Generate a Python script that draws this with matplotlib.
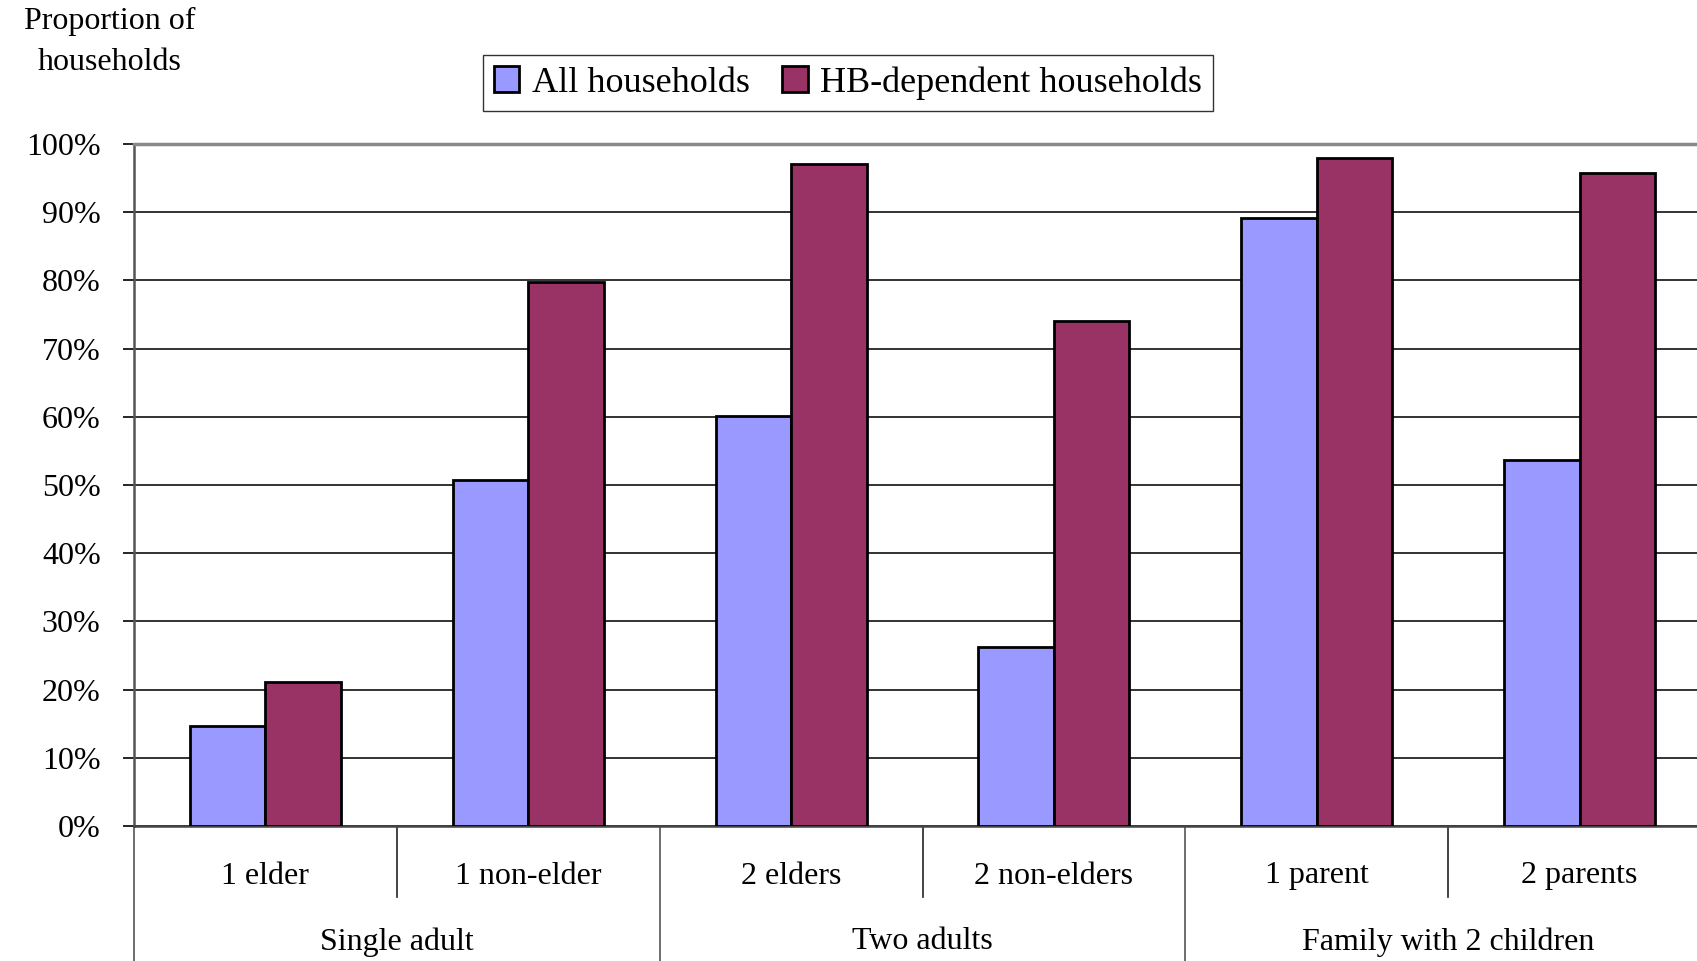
import matplotlib
matplotlib.use("Agg")
import matplotlib.pyplot as plt
import matplotlib.transforms as mtransforms
from matplotlib.patches import Patch
import numpy as np

plt.rcParams["font.family"] = ["Liberation Serif", "DejaVu Serif"]

# household types, grouped in pairs under three headings
subcategories = ["1 elder", "1 non-elder", "2 elders", "2 non-elders", "1 parent", "2 parents"]
groups = ["Single adult", "Two adults", "Family with 2 children"]
all_households = [0.146, 0.507, 0.601, 0.263, 0.892, 0.536]
hb_dependent = [0.211, 0.797, 0.971, 0.740, 0.979, 0.957]
series_names = ["All households", "HB-dependent households"]
yticks = np.arange(0, 1.01, 0.1)

BLUE = "#9999FF"
PLUM = "#993366"
FS = 23

W, H = 1697, 961
fig = plt.figure(figsize=(W / 100, H / 100), dpi=100)
left, right, top, bottom = 134, 1711, 144, 826
ax = fig.add_axes([left / W, 1 - bottom / H, (right - left) / W, (bottom - top) / H])

x = np.arange(len(subcategories))
bw = 0.287
ax.bar(x - bw / 2, all_households, bw, color=BLUE, edgecolor="black", linewidth=2, zorder=3)
ax.bar(x + bw / 2, hb_dependent, bw, color=PLUM, edgecolor="black", linewidth=2, zorder=3)

ax.set_xlim(-0.5, len(subcategories) - 0.5)
ax.set_ylim(0, 1)
ax.set_yticks(yticks)
ax.set_yticklabels([f"{int(round(t * 100))}%" for t in yticks], fontsize=FS)
ax.tick_params(axis="y", direction="out", length=8, width=1.2, pad=16, colors="black")
ax.set_xticks([])

ax.yaxis.grid(True, color="#222222", linewidth=1.3)
ax.set_axisbelow(True)

ax.spines["right"].set_visible(False)
ax.spines["top"].set_color("#888888")
ax.spines["top"].set_linewidth(2.5)
ax.spines["left"].set_color("#555555")
ax.spines["left"].set_linewidth(1.8)
ax.spines["bottom"].set_color("#444444")
ax.spines["bottom"].set_linewidth(1.8)

# two-level category axis below the plot
trans = mtransforms.blended_transform_factory(ax.transData, ax.transAxes)
span = bottom - top
short_y = -(897 - bottom) / span
long_y = -(H - bottom + 2) / span
for xs in [0.5, 2.5, 4.5]:
    ax.plot([xs, xs], [0, short_y], transform=trans, color="#222222", lw=1.2, clip_on=False)
for xs in [-0.5, 1.5, 3.5, 5.5]:
    ax.plot([xs, xs], [0, long_y], transform=trans, color="#555555", lw=1.2, clip_on=False)

sub_y = -(876 - bottom) / span
grp_y = -(942 - bottom) / span
for xi, name in zip(x, subcategories):
    ax.text(xi, sub_y, name, transform=trans, ha="center", va="center", fontsize=FS)
for gi, name in enumerate(groups):
    ax.text(2 * gi + 0.5, grp_y, name, transform=trans, ha="center", va="center", fontsize=FS)

fig.text(110 / W, 1 - 42 / H, "Proportion of\nhouseholds", ha="center", va="center",
         fontsize=FS, linespacing=1.55)

handles = [Patch(facecolor=BLUE, edgecolor="black", linewidth=2),
           Patch(facecolor=PLUM, edgecolor="black", linewidth=2)]
leg = fig.legend(handles, series_names, loc="center", bbox_to_anchor=(848 / W, 1 - 83 / H),
                 ncol=2, fontsize=26, frameon=True, fancybox=False, handlelength=0.7,
                 handleheight=0.7, handletextpad=0.35, columnspacing=0.9, borderpad=0.3)
leg.get_frame().set_edgecolor("black")
leg.get_frame().set_linewidth(1.0)

fig.savefig("out.png", dpi=100)
